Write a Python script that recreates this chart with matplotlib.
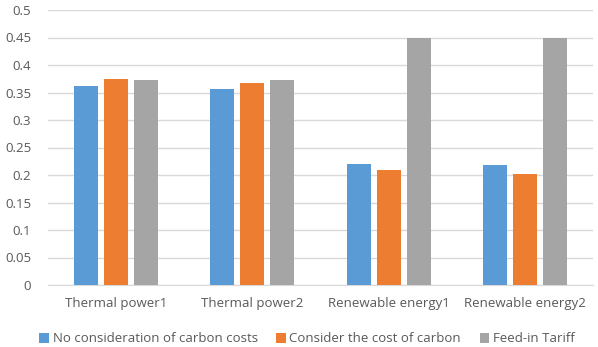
import matplotlib
matplotlib.use("Agg")
import matplotlib.pyplot as plt
import numpy as np

categories = ["Thermal power1", "Thermal power2", "Renewable energy1", "Renewable energy2"]
series_names = ["No consideration of carbon costs", "Consider the cost of carbon", "Feed-in Tariff"]
no_carbon = [0.362, 0.356, 0.220, 0.219]
with_carbon = [0.375, 0.367, 0.209, 0.202]
feed_in = [0.373, 0.373, 0.449, 0.449]
yticks = [0, 0.05, 0.1, 0.15, 0.2, 0.25, 0.3, 0.35, 0.4, 0.45, 0.5]
ytick_labels = ["0", "0.05", "0.1", "0.15", "0.2", "0.25", "0.3", "0.35", "0.4", "0.45", "0.5"]

colors = ["#5B9BD5", "#ED7D31", "#A5A5A5"]

plt.rcParams['font.family'] = ['Open Sans', 'DejaVu Sans']

fig = plt.figure(figsize=(5.98, 3.47), dpi=100)
ax = fig.add_axes([48/598, 1-285/347, 545/598, 275/347])

x = np.arange(len(categories))
w = 0.176
step = 0.22
handles = []
for i, (vals, c, name) in enumerate(zip([no_carbon, with_carbon, feed_in], colors, series_names)):
    h = ax.bar(x + (i-1)*step, vals, width=w, color=c, label=name, zorder=3)
    handles.append(h)

ax.set_xlim(-0.5, len(categories)-0.5)
ax.set_ylim(0, 0.5)
ax.set_yticks(yticks)
ax.set_yticklabels(ytick_labels)
ax.set_xticks(x)
ax.set_xticklabels(categories)
ax.grid(axis='y', color='#D9D9D9', linewidth=1, zorder=0)
for s in ['top', 'right', 'left']:
    ax.spines[s].set_visible(False)
ax.spines['bottom'].set_color('#D9D9D9')
ax.tick_params(axis='both', length=0, colors='#595959', labelsize=9.5)
ax.tick_params(axis='x', pad=9)
ax.tick_params(axis='y', pad=12)

leg = fig.legend(handles=handles, labels=series_names, loc='center', bbox_to_anchor=(307/598, 1-339/347),
                 ncol=3, frameon=False, fontsize=9.5, handlelength=0.7, handleheight=0.7,
                 handletextpad=0.3, columnspacing=1.4)
for t in leg.get_texts():
    t.set_color('#595959')

fig.savefig("out.png", dpi=100)
